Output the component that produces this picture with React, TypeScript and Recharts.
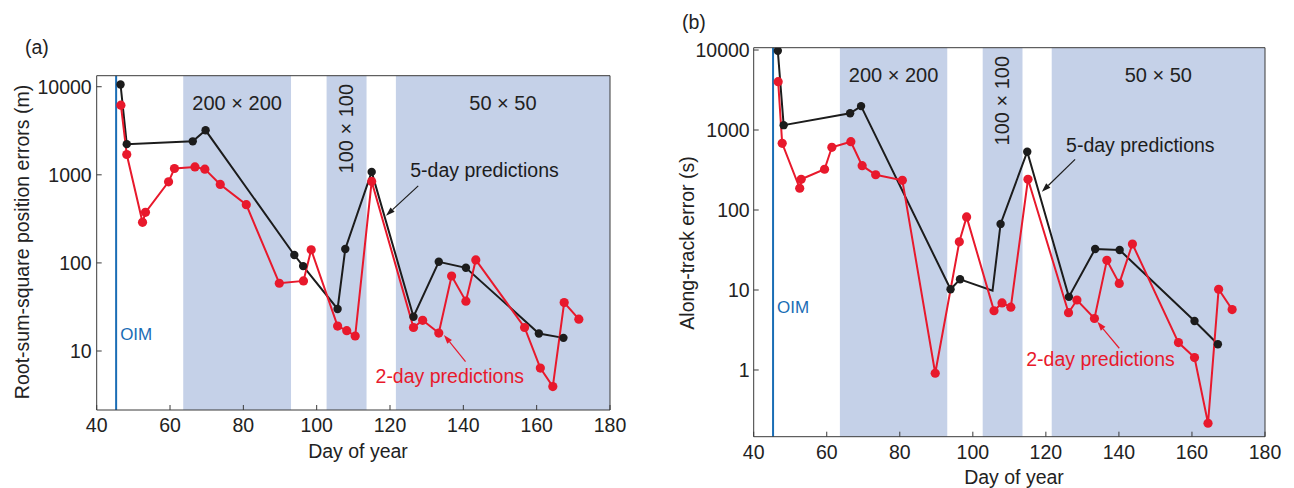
import React from 'react';
import { LineChart, Line, XAxis, YAxis, ReferenceArea, ReferenceLine } from 'recharts';

// grid-resolution periods (day of year) and orbit insertion day
const cellFrom = [63.6, 102.7, 121.6];
const cellTo = [93.0, 113.6, 180];
const cellNames = ['200 × 200', '100 × 100', '50 × 50'];
const oimDay = 45.3;
const dayTicks = [40, 60, 80, 100, 120, 140, 160, 180];

// (a) root-sum-square position errors (m)
const a5Days = [46.5, 48.2, 66.2, 69.7, 93.9, 96.3, 105.7, 107.8, 115.0, 126.4, 133.3, 140.7, 160.6, 167.3];
const a5Err = [10600, 2230, 2400, 3200, 123, 92, 30, 144, 1080, 24.5, 103, 88, 15.8, 14.1];
const a2Days = [46.6, 48.2, 52.5, 53.3, 59.6, 61.2, 66.8, 69.5, 73.7, 80.8, 89.8, 96.4, 98.5, 105.7, 108.2, 110.5, 115.0, 126.4, 128.9, 133.3, 136.8, 140.7, 143.4, 156.7, 161.0, 164.4, 167.5, 171.5];
const a2Err = [6170, 1700, 289, 375, 833, 1180, 1230, 1160, 777, 458, 58.8, 62.5, 141, 19.2, 17, 14.8, 841, 18.5, 22.3, 16, 71, 36.8, 108, 18.5, 6.4, 3.95, 35.5, 23];
const aTicks = [10, 100, 1000, 10000];

// (b) along-track error (s)
const b5Days = [46.6, 48.2, 66.4, 69.4, 93.9, 96.5, 105.4, 107.6, 114.9, 126.3, 133.5, 140.2, 160.7, 167.1];
const b5Err = [9800, 1150, 1620, 1990, 10.2, 13.6, 9.8, 67, 535, 8.2, 32.6, 31.6, 4.1, 2.1];
const b5NoMarker = [105.4];
const b2Days = [46.7, 47.8, 52.6, 53.0, 59.4, 61.4, 66.6, 69.7, 73.4, 80.7, 89.7, 96.3, 98.3, 105.8, 108.0, 110.4, 115.1, 126.2, 128.5, 133.3, 136.7, 140.1, 143.7, 156.3, 160.7, 164.4, 167.3, 171.0];
const b2Err = [4020, 682, 187, 242, 323, 608, 714, 358, 276, 235, 0.91, 40, 82, 5.5, 6.9, 6.1, 242, 5.2, 7.5, 4.4, 23.5, 12.1, 37.6, 2.2, 1.43, 0.216, 10.2, 5.7];
const bTicks = [1, 10, 100, 1000, 10000];

const FONT = '"Liberation Sans", Arial, Helvetica, sans-serif';
const AXIS = '#3a3a3a';
const TEXT = '#222';
const RED = '#e8192c';
const BLACK = '#1c1c1c';
const SHADE = '#c5d1e8';
const BLUE = '#1a6db5';

const toRows = (days: number[], vals: number[]) => days.map((day, i) => ({ day, err: vals[i] }));

type Note = { text: string; color: string; tail: [number, number]; head: [number, number]; dx: number; dy: number };

const arrowShape = (n: Note) => (p: any) => {
  const { x1, y1, x2, y2 } = p;
  const ang = Math.atan2(y2 - y1, x2 - x1);
  const L = 9, W = 3;
  const bx = x2 - L * Math.cos(ang), by = y2 - L * Math.sin(ang);
  const px = -Math.sin(ang) * W, py = Math.cos(ang) * W;
  return (
    <g>
      <line x1={x1} y1={y1} x2={bx} y2={by} stroke={n.color} strokeWidth={1.2} />
      <polygon points={`${x2},${y2} ${bx + px},${by + py} ${bx - px},${by - py}`} fill={n.color} />
      <text x={x1 + n.dx} y={y1 + n.dy} fill={n.color} fontSize={19.5} fontFamily={FONT}>{n.text}</text>
    </g>
  );
};

const dotFor = (color: string, r: number, skip: number[] = []) => (p: any) => (
  <circle key={`dot-${p.index}`} cx={p.cx} cy={p.cy} r={skip.includes(p.payload.day) ? 0 : r} fill={color} />
);

type PanelProps = {
  width: number;
  height: number;
  margin: { top: number; right: number; bottom: number; left: number };
  yWidth: number;
  xHeight: number;
  yDomain: [number, number];
  yTicks: number[];
  yTickMargin: number;
  five: { day: number; err: number }[];
  two: { day: number; err: number }[];
  noMarker?: number[];
  oimUp: number;
  notes: Note[];
};

const Panel: React.FC<PanelProps> = (pp) => {
  const tickStyle = { fontSize: 19.5, fill: TEXT, fontFamily: FONT };
  return (
    <LineChart width={pp.width} height={pp.height} margin={pp.margin}>
      {cellFrom.map((from, i) => (
        <ReferenceArea
          key={cellNames[i]}
          x1={from}
          x2={cellTo[i]}
          fill={SHADE}
          fillOpacity={1}
          stroke="none"
          label={(lp: any) => {
            const vb = lp.viewBox;
            const cx = vb.x + vb.width / 2;
            if (i === 1) {
              const bx = cx + 6, by = vb.y + 53;
              return (
                <text x={bx} y={by} transform={`rotate(-90, ${bx}, ${by})`} textAnchor="middle" fill={TEXT} fontSize={20} fontFamily={FONT}>
                  {cellNames[i]}
                </text>
              );
            }
            return (
              <text x={cx} y={vb.y + 34} textAnchor="middle" fill={TEXT} fontSize={20} fontFamily={FONT}>
                {cellNames[i]}
              </text>
            );
          }}
        />
      ))}
      <ReferenceLine
        x={oimDay}
        stroke={BLUE}
        strokeWidth={2}
        label={(lp: any) => {
          const vb = lp.viewBox;
          return (
            <text x={vb.x + 4} y={vb.y + vb.height - pp.oimUp} fill={BLUE} fontSize={17} fontFamily={FONT}>OIM</text>
          );
        }}
      />
      <XAxis
        dataKey="day"
        type="number"
        domain={[40, 180]}
        allowDataOverflow
        ticks={dayTicks}
        interval={0}
        height={pp.xHeight}
        tickSize={-5}
        tickMargin={13}
        axisLine={{ stroke: AXIS }}
        tickLine={{ stroke: AXIS }}
        tick={tickStyle}
      />
      <XAxis
        xAxisId="top"
        orientation="top"
        dataKey="day"
        type="number"
        domain={[40, 180]}
        allowDataOverflow
        ticks={dayTicks}
        interval={0}
        height={1}
        tickSize={-5}
        axisLine={{ stroke: AXIS }}
        tickLine={{ stroke: AXIS }}
        tick={false}
      />
      <YAxis
        dataKey="err"
        type="number"
        scale="log"
        domain={pp.yDomain}
        allowDataOverflow
        ticks={pp.yTicks}
        interval={0}
        width={pp.yWidth}
        tickSize={-5}
        tickMargin={pp.yTickMargin}
        axisLine={{ stroke: AXIS }}
        tickLine={{ stroke: AXIS }}
        tick={tickStyle}
      />
      <YAxis
        yAxisId="r"
        orientation="right"
        dataKey="err"
        type="number"
        scale="log"
        domain={pp.yDomain}
        allowDataOverflow
        ticks={pp.yTicks}
        interval={0}
        width={1}
        tickSize={-5}
        axisLine={{ stroke: AXIS }}
        tickLine={{ stroke: AXIS }}
        tick={false}
      />
      {/* invisible series so the box axes have something bound to them */}
      <Line
        xAxisId="top"
        yAxisId="r"
        data={pp.five}
        dataKey="err"
        stroke="none"
        dot={false}
        activeDot={false}
        isAnimationActive={false}
      />
      <Line
        data={pp.five}
        dataKey="err"
        type="linear"
        stroke={BLACK}
        strokeWidth={2}
        dot={dotFor(BLACK, 4.2, pp.noMarker)}
        activeDot={false}
        isAnimationActive={false}
      />
      <Line
        data={pp.two}
        dataKey="err"
        type="linear"
        stroke={RED}
        strokeWidth={2}
        dot={dotFor(RED, 4.6)}
        activeDot={false}
        isAnimationActive={false}
      />
      {pp.notes.map((n) => (
        <ReferenceLine
          key={n.text}
          segment={[{ x: n.tail[0], y: n.tail[1] }, { x: n.head[0], y: n.head[1] }]}
          stroke={n.color}
          shape={arrowShape(n)}
        />
      ))}
    </LineChart>
  );
};

const aNotes: Note[] = [
  { text: '5-day predictions', color: BLACK, tail: [127.7, 750], head: [118.9, 343], dx: -8, dy: -9 },
  { text: '2-day predictions', color: RED, tail: [140.6, 7.6], head: [134.7, 15.2], dx: -90, dy: 21 },
];
const bNotes: Note[] = [
  { text: '5-day predictions', color: BLACK, tail: [128.0, 430], head: [118.9, 169], dx: -9, dy: -7 },
  { text: '2-day predictions', color: RED, tail: [140.1, 1.87], head: [134.1, 4.0], dx: -93, dy: 18 },
];

export default function App() {
  return (
    <div style={{ position: 'absolute', left: 0, top: 0, width: 1294, height: 488, background: '#fff', fontFamily: FONT }}>
      <div style={{ position: 'absolute', left: 0, top: 0 }}>
        <Panel
          width={640}
          height={488}
          margin={{ top: 74.7, right: 29, bottom: 18, left: 0 }}
          yWidth={96.7}
          xHeight={60}
          yDomain={[2.14, 13340]}
          yTicks={aTicks}
          yTickMargin={10}
          five={toRows(a5Days, a5Err)}
          two={toRows(a2Days, a2Err)}
          oimUp={70}
          notes={aNotes}
        />
      </div>
      <div style={{ position: 'absolute', left: 650, top: 0 }}>
        <Panel
          width={644}
          height={488}
          margin={{ top: 46.7, right: 28, bottom: 0, left: 0 }}
          yWidth={103.7}
          xHeight={51.3}
          yDomain={[0.1466, 10690]}
          yTicks={bTicks}
          yTickMargin={9}
          five={toRows(b5Days, b5Err)}
          two={toRows(b2Days, b2Err)}
          noMarker={b5NoMarker}
          oimUp={123.7}
          notes={bNotes}
        />
      </div>
      <svg width={1294} height={488} style={{ position: 'absolute', left: 0, top: 0, pointerEvents: 'none' }}>
        <g fill={TEXT} fontFamily={FONT} fontSize={19.5}>
          <text x={25} y={54}>(a)</text>
          <text x={682} y={29}>(b)</text>
          <text x={29} y={242} textAnchor="middle" transform="rotate(-90, 29, 242)">Root-sum-square position errors (m)</text>
          <text x={694} y={243} textAnchor="middle" transform="rotate(-90, 694, 243)">Along-track error (s)</text>
          <text x={358} y={458} textAnchor="middle">Day of year</text>
          <text x={1014} y={484} textAnchor="middle">Day of year</text>
        </g>
      </svg>
    </div>
  );
}
